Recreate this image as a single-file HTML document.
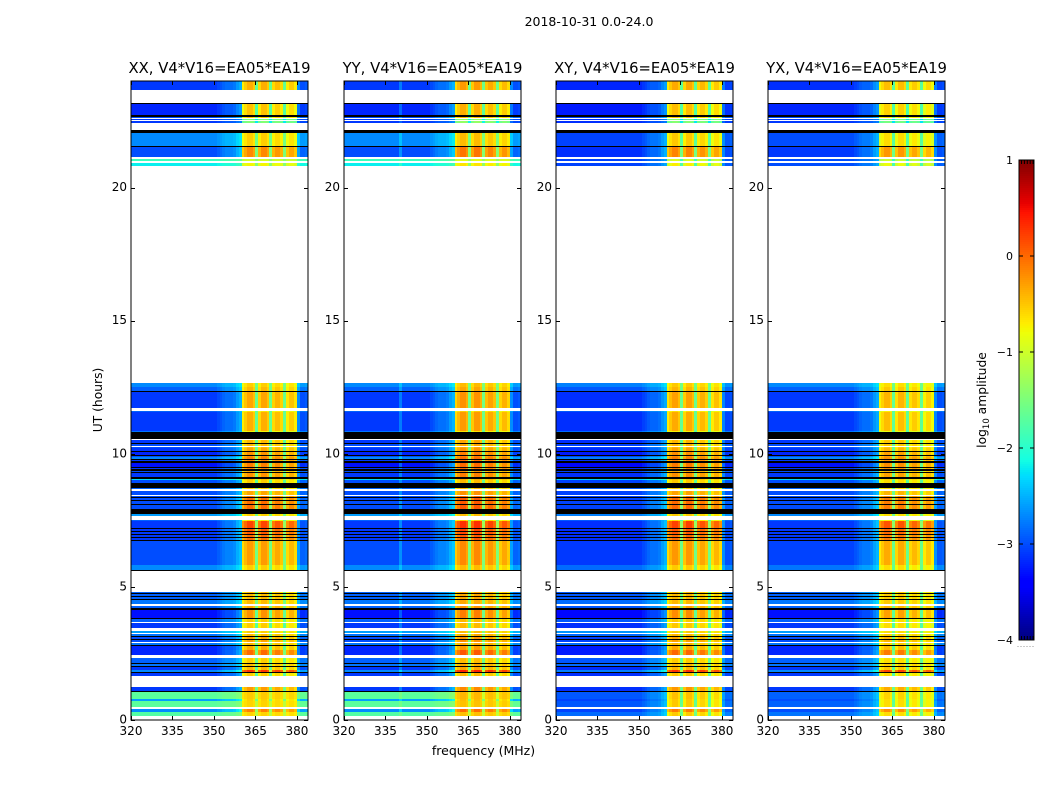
<!DOCTYPE html>
<html lang="en">
<head>
<meta charset="utf-8">
<title>2018-10-31 0.0-24.0</title>
<style>
html,body{margin:0;padding:0;background:#fff;}
svg{display:block;}
text{font-family:"DejaVu Sans","Liberation Sans",sans-serif;fill:#000;}
</style>
</head>
<body>
<svg id="figure" xmlns="http://www.w3.org/2000/svg" width="1050" height="800" viewBox="0 0 1050 800">
<rect x="0" y="0" width="1050" height="800" fill="#fff"/>
<text x="589" y="26" font-size="12.5" text-anchor="middle">2018-10-31 0.0-24.0</text>
<text x="0" y="0" font-size="12.3" text-anchor="middle" transform="translate(102 400) rotate(-90)">UT (hours)</text>
<text x="483.5" y="755" font-size="12.5" text-anchor="middle">frequency (MHz)</text>
<g id="panels"></g>
<g id="colorbar"></g>
<text x="0" y="0" font-size="12.3" text-anchor="middle" transform="translate(986 400) rotate(-90)">log<tspan font-size="8.5" dy="3">10</tspan><tspan dy="-3"> amplitude</tspan></text>
</svg>
<script>
const N = null;   // no data (white)
const B = -9;     // flagged row (black)

const panelTitles = ["XX, V4*V16=EA05*EA19", "YY, V4*V16=EA05*EA19", "XY, V4*V16=EA05*EA19", "YX, V4*V16=EA05*EA19"];
const xTickValues = [320, 335, 350, 365, 380];
const yTickValues = [0, 5, 10, 15, 20];
const colorbarTicks = [1, 0, -1, -2, -3, -4];

// Upper edge of each time row, hours
const rowEnd = [
0.15,0.30,0.41,0.49,0.71,0.79,1.05,1.09,1.24,1.65,
1.76,1.80,1.87,1.99,2.02,2.10,2.14,2.32,2.44,2.62,
2.77,2.81,2.89,2.92,3.00,3.04,3.11,3.15,3.22,3.26,
3.34,3.45,3.64,3.67,3.79,3.84,4.12,4.20,4.27,4.35,
4.50,4.54,4.61,4.65,4.72,4.76,4.80,5.59,5.64,5.81,
6.71,6.75,6.82,6.86,6.94,6.97,7.05,7.09,7.16,7.20,
7.46,7.53,7.65,7.72,7.91,8.06,8.10,8.21,8.25,8.32,
8.36,8.40,8.44,8.59,8.66,8.70,8.92,9.00,9.04,9.11,
9.26,9.30,9.37,9.41,9.49,9.52,9.67,9.71,9.75,9.79,
9.86,9.90,9.94,10.09,10.12,10.20,10.24,10.26,10.30,10.39,
10.42,10.50,10.57,10.84,10.87,11.55,11.59,11.62,11.70,12.34,
12.37,12.49,12.52,12.64,20.81,20.92,21.00,21.07,21.15,21.52,
21.56,22.05,22.16,22.42,22.50,22.54,22.57,22.61,22.65,22.72,
23.13,23.17,23.66,24.00];

// log10 amplitude outside the receiver band, XX and YY
const rowLowParallel = [
N,-1.65,-2.6,N,-1.6,-2.5,-1.6,B,-3,N,
-3,B,-2.6,-3,B,-2.7,B,-2.8,N,-3.1,
-3.1,B,-2.7,N,-2.9,B,-2.9,B,-2.7,N,
-2.5,N,-3,N,-2.8,B,-3.2,B,-2.8,N,
-2.7,B,-2.8,B,-2.8,B,-2.8,N,B,-2.6,
-2.9,B,-3,B,-3,B,-3,B,-3,B,
-3,-2.8,N,-2.5,B,-2.9,B,-2.9,B,-2.9,
B,-2.9,N,-2.9,N,-2.8,B,-2.9,-2.2,B,
-3,B,-2.9,B,-3,B,-3.2,B,-3,B,
-2.6,-2.9,B,-3.1,B,-3,B,-2.9,N,-2.9,
B,-3,N,B,-2.7,-3,B,-2.8,N,-3,
B,-2.8,N,-2.6,N,-2.1,N,-1.8,N,-2.9,
B,-2.6,B,N,-3,N,-3,N,-2.9,B,
-3.1,B,N,-3];

// log10 amplitude outside the receiver band, XY and YX
const rowLowCross = [
N,-2.7,-2.9,N,-2.8,-2.9,-2.8,B,-3,N,
-3,B,-2.6,-3,B,-2.7,B,-2.8,N,-3.1,
-3.1,B,-2.7,N,-2.9,B,-2.9,B,-2.7,N,
-2.5,N,-3,N,-2.8,B,-3.2,B,-2.8,N,
-2.7,B,-2.8,B,-2.8,B,-2.8,N,B,-2.7,
-2.95,B,-3,B,-3,B,-3,B,-3,B,
-3,-2.8,N,-2.6,B,-2.9,B,-2.9,B,-2.9,
B,-2.9,N,-2.9,N,-2.8,B,-2.9,-2.2,B,
-3,B,-2.9,B,-3,B,-3.2,B,-3,B,
-2.6,-2.9,B,-3.1,B,-3,B,-2.9,N,-2.9,
B,-3,N,B,-2.7,-3,B,-2.8,N,-3,
B,-2.8,N,-2.6,N,-2.9,N,-2.9,N,-3,
B,-2.9,B,N,-3,N,-3,N,-2.9,B,
-3.1,B,N,-3.05];

// log10 amplitude inside the receiver band
const rowHigh = [
N,-0.6,-0.2,N,-0.6,-0.6,-0.55,B,-0.35,N,
-0.6,B,0.2,-0.5,B,-0.5,B,-0.6,N,-0.1,
-0.45,B,-0.5,N,-0.4,B,-0.4,B,-0.5,N,
-0.6,N,-0.6,N,-0.6,B,-0.3,B,-0.4,N,
-0.5,B,-0.5,B,-0.5,B,-0.5,N,B,-0.6,
-0.35,B,-0.1,B,-0.1,B,0,B,0,B,
0.1,-0.7,N,-0.6,B,-0.1,B,-0.1,B,-0.1,
B,-0.2,N,-0.4,N,-0.6,B,-0.6,-0.5,B,
-0.3,B,-0.4,B,-0.2,B,-0.2,B,-0.2,B,
-0.2,-0.3,B,-0.3,B,-0.4,B,-0.5,N,-0.5,
B,-0.5,N,B,-0.8,-0.45,B,-0.7,N,-0.4,
B,-0.5,N,-0.6,N,-0.8,N,-1,N,-0.25,
B,-0.6,B,N,-1.5,N,-1.5,N,-0.6,B,
-0.55,B,N,-0.45];

// Channel centres and how far each sits between low and high level
const channelFreq = [
320,321,322,323,324,325,326,327,328,329,330,331,332,333,334,335,
336,337,338,339,340,341,342,343,344,345,346,347,348,349,350,351,
352,353,354,355,356,357,358,359,360,361,362,363,364,365,366,367,
368,369,370,371,372,373,374,375,376,377,378,379,380,381,382,383];
const channelWeight = [
0,0,0,0,0,0,0,0,0,0,0,0,0,0,0,0,
0,0,0,0,0,0,0,0,0,0,0,0,0,0,0,0.03,
0.05,0.08,0.1,0.1,0.1,0.12,0.18,0.22,0.9,0.97,1.03,1.03,0.97,0.55,0.94,1.03,
1.03,0.97,0.55,0.94,1,1,0.94,0.55,0.9,0.97,0.97,0.9,0.15,0.04,0.04,0.06];

// Per-panel level shifts
const panelHighShift = [0, 0.1, 0.02, -0.08];
const panelLowShift = [-0.1, -0.1, -0.15, -0.1];
// Interference channel seen in YY only
const rfiChannelYY = 340;
const rfiWeightYY = 0.12;

const svg = document.getElementById('figure');
const panelsG = document.getElementById('panels');
const colorbarG = document.getElementById('colorbar');
const NS = 'http://www.w3.org/2000/svg';

const panelLefts = [131, 344, 556, 768];
const panelWidth = 177, plotTop = 81, plotBottom = 720;
const freqMin = 320, freqMax = 384, hourMin = 0, hourMax = 24;

function xScale(left, f) { return left + (f - freqMin) * panelWidth / (freqMax - freqMin); }
function yScale(h) { return plotBottom - (h - hourMin) * (plotBottom - plotTop) / (hourMax - hourMin); }

const jetR = [[0,0],[0.35,0],[0.66,1],[0.89,1],[1,0.5]];
const jetG = [[0,0],[0.125,0],[0.375,1],[0.64,1],[0.91,0],[1,0]];
const jetB = [[0,0.5],[0.11,1],[0.34,1],[0.65,0],[1,0]];
function interp(stops, t) {
  for (let i = 1; i < stops.length; i++) {
    if (t <= stops[i][0]) {
      const a = stops[i - 1], b = stops[i];
      return a[1] + (b[1] - a[1]) * (t - a[0]) / (b[0] - a[0]);
    }
  }
  return stops[stops.length - 1][1];
}
function colorFor(v) {
  if (v <= -8) return '#000';
  const t = Math.max(0, Math.min(1, (v + 4) / 5));
  return 'rgb(' + Math.round(255 * interp(jetR, t)) + ',' + Math.round(255 * interp(jetG, t)) + ',' + Math.round(255 * interp(jetB, t)) + ')';
}
function rectEl(parent, x, y, w, h, fill) {
  const r = document.createElementNS(NS, 'rect');
  r.setAttribute('x', x);
  r.setAttribute('y', y);
  r.setAttribute('width', w);
  r.setAttribute('height', h);
  r.setAttribute('fill', fill);
  parent.appendChild(r);
  return r;
}
function lineEl(parent, x1, y1, x2, y2) {
  const l = document.createElementNS(NS, 'line');
  l.setAttribute('x1', x1);
  l.setAttribute('y1', y1);
  l.setAttribute('x2', x2);
  l.setAttribute('y2', y2);
  l.setAttribute('stroke', '#000');
  l.setAttribute('stroke-width', '1');
  parent.appendChild(l);
  return l;
}
function textEl(parent, x, y, str, size, anchor) {
  const t = document.createElementNS(NS, 'text');
  t.setAttribute('x', x);
  t.setAttribute('y', y);
  t.setAttribute('font-size', size);
  t.setAttribute('text-anchor', anchor);
  t.textContent = str;
  parent.appendChild(t);
  return t;
}

panelTitles.forEach(function (title, p) {
  const left = panelLefts[p];
  const right = left + panelWidth;
  const lowSeries = p < 2 ? rowLowParallel : rowLowCross;

  const g = document.createElementNS(NS, 'g');
  
  
  panelsG.appendChild(g);

  const cells = document.createElementNS(NS, 'g');
  
  
  cells.setAttribute('shape-rendering', 'crispEdges');
  g.appendChild(cells);

  rowEnd.forEach(function (end, r) {
    const start = r === 0 ? hourMin : rowEnd[r - 1];
    const low = lowSeries[r], high = rowHigh[r];
    if (low === N) return;
    const yTop = Math.round(yScale(end));
    const yBot = Math.round(yScale(start));
    const h = Math.max(1, yBot - yTop);
    if (low === B) {
      const flagged = rectEl(cells, left, yTop, panelWidth, h, '#000');
      
      
      return;
    }
    channelFreq.forEach(function (f, c) {
      let w = channelWeight[c];
      if (p === 1 && f === rfiChannelYY) w = rfiWeightYY;
      const lo = low + panelLowShift[p];
      const hi = high + panelHighShift[p];
      const v = lo + (hi - lo) * w;
      const x0 = Math.round(xScale(left, f));
      const x1 = Math.round(xScale(left, f + 1));
      const cell = rectEl(cells, x0, yTop, x1 - x0, h, colorFor(v));
      
      
    });
  });

  const frame = rectEl(g, left, plotTop, panelWidth, plotBottom - plotTop, 'none');
  frame.setAttribute('stroke', '#000');
  frame.setAttribute('stroke-width', '1');
  
  

  xTickValues.forEach(function (f) {
    const x = Math.round(xScale(left, f)) + 0.5;
    const tb = lineEl(g, x, plotBottom, x, plotBottom - 4);
    
    
    const tt = lineEl(g, x, plotTop, x, plotTop + 4);
    
    
    const lab = textEl(g, xScale(left, f), 735, String(f), 12, 'middle');
    
    
  });
  yTickValues.forEach(function (h) {
    const y = Math.round(yScale(h)) + 0.5;
    const tl = lineEl(g, left, y, left + 4, y);
    
    
    const tr = lineEl(g, right, y, right - 4, y);
    
    
    const lab = textEl(g, left - 4, yScale(h) + 3.5, String(h), 12, 'end');
    
    
  });

  const ttl = textEl(g, left + panelWidth / 2, 73, title, 14.8, 'middle');
  
  
});

// Colorbar
const cbLeft = 1019, cbRight = 1034, cbTop = 160, cbBottom = 640;
function cbScale(v) { return cbBottom - (v + 4) * (cbBottom - cbTop) / 5; }
const cbSteps = 240;
const cbStrips = document.createElementNS(NS, 'g');


cbStrips.setAttribute('shape-rendering', 'crispEdges');
colorbarG.appendChild(cbStrips);
for (let i = 0; i < cbSteps; i++) {
  const v0 = -4 + 5 * i / cbSteps;
  const v1 = -4 + 5 * (i + 1) / cbSteps;
  const strip = rectEl(cbStrips, cbLeft, cbScale(v1), cbRight - cbLeft, cbScale(v0) - cbScale(v1), colorFor((v0 + v1) / 2));
  
  
}
const cbFrame = rectEl(colorbarG, cbLeft, cbTop, cbRight - cbLeft, cbBottom - cbTop, 'none');
cbFrame.setAttribute('stroke', '#000');
cbFrame.setAttribute('stroke-width', '1');


colorbarTicks.forEach(function (v) {
  const y = cbScale(v);
  const t1 = lineEl(colorbarG, cbLeft, y, cbLeft + 4, y);
  
  
  const t2 = lineEl(colorbarG, cbRight, y, cbRight - 4, y);
  
  
  const lab = textEl(colorbarG, 1013, y + 4, (v < 0 ? '\u2212' + (-v) : String(v)), 11, 'end');
  
  
});
for (let i = 0; i < 5; i++) {
  const x = cbLeft + 2.5 + i * 2.9;
  const topTick = lineEl(colorbarG, x, cbTop, x, cbTop + 4);
  
  
  const botTick = lineEl(colorbarG, x, cbBottom, x, cbBottom - 4);
  
  
}
for (let i = 0; i < 6; i++) {
  const dot = rectEl(colorbarG, cbLeft - 1.5 + i * 3, 646, 1, 1, '#999');
  
  
}
</script>
</body>
</html>
